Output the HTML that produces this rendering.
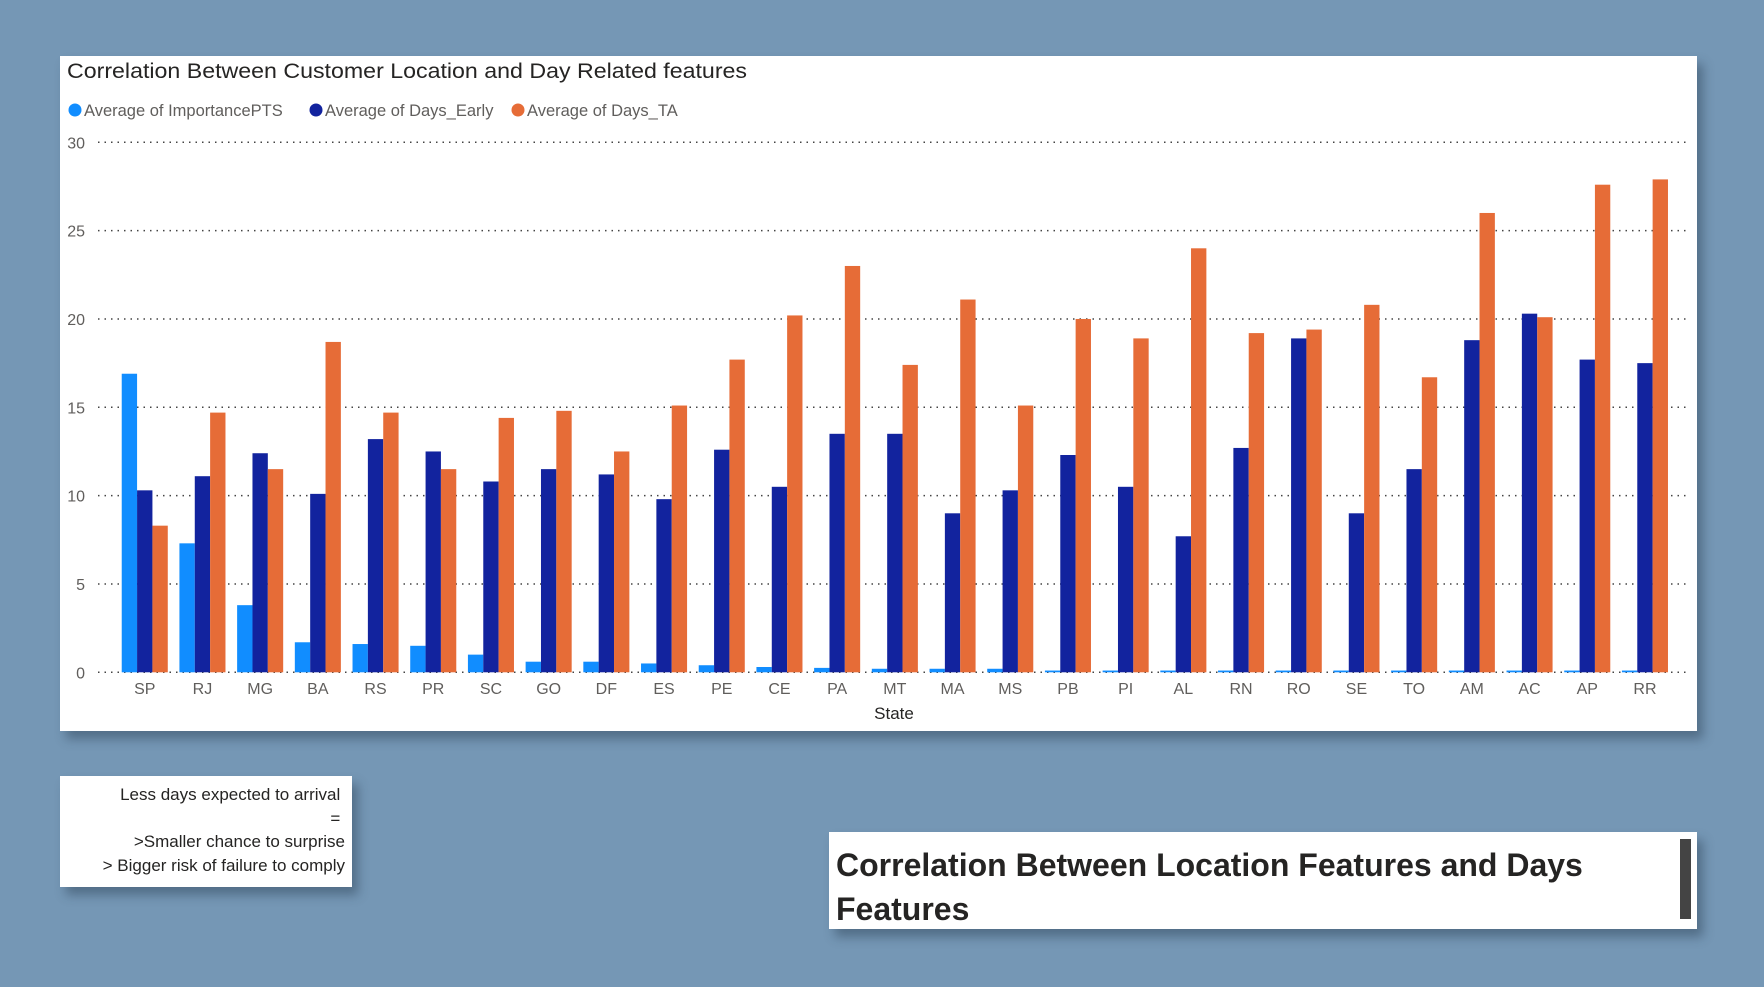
<!DOCTYPE html>
<html><head><meta charset="utf-8">
<style>
body{margin:0;width:1764px;height:987px;background:#7597b5;overflow:hidden;font-family:"Liberation Sans",sans-serif;position:relative}
.card{position:absolute;background:#fff;box-shadow:6px 8px 10px rgba(40,60,80,0.45)}
</style></head><body>
<div class="card" style="left:60px;top:56px;width:1637px;height:675px"></div>
<svg width="1764" height="987" style="position:absolute;left:0;top:0" id="chart">
<text x="67" y="78" font-size="21" textLength="680" lengthAdjust="spacingAndGlyphs" fill="#252423" font-family="Liberation Sans, sans-serif">Correlation Between Customer Location and Day Related features</text>
<g font-size="16.5" fill="#605e5c">
<circle cx="75" cy="110" r="6.5" fill="#118dff"/>
<text x="84" y="116">Average of ImportancePTS</text>
<circle cx="316" cy="110" r="6.5" fill="#12239e"/>
<text x="325" y="116">Average of Days_Early</text>
<circle cx="518" cy="110" r="6.5" fill="#e66c37"/>
<text x="527" y="116">Average of Days_TA</text>
</g>
<g id="grid"></g><g id="bars"></g><g id="xl"></g>
<text x="894" y="719" font-size="17" fill="#252423" text-anchor="middle">State</text>
</svg>
<div class="card" style="left:60px;top:776px;width:292px;height:111px;font-size:17px;color:#252423;text-align:right;line-height:23.5px;box-sizing:border-box;padding:7px 7px 0 0">
Less days expected to arrival&nbsp;<br>=&nbsp;<br>&gt;Smaller chance to surprise<br>&gt; Bigger risk of failure to comply</div>
<div class="card" style="left:829px;top:832px;width:868px;height:97px">
<div style="position:absolute;left:7px;top:11px;width:760px;font-size:32px;font-weight:bold;color:#252423;line-height:44px">Correlation Between Location Features and Days Features</div>
<div style="position:absolute;left:851px;top:7px;width:11px;height:80px;background:#444"></div>
</div>
<script>
const categories=["SP","RJ","MG","BA","RS","PR","SC","GO","DF","ES","PE","CE","PA","MT","MA","MS","PB","PI","AL","RN","RO","SE","TO","AM","AC","AP","RR"];
const importancePTS=[16.9,7.3,3.8,1.7,1.6,1.5,1.0,0.6,0.6,0.5,0.4,0.3,0.25,0.2,0.2,0.2,0.1,0.1,0.1,0.1,0.1,0.1,0.1,0.1,0.1,0.1,0.1];
const daysEarly=[10.3,11.1,12.4,10.1,13.2,12.5,10.8,11.5,11.2,9.8,12.6,10.5,13.5,13.5,9.0,10.3,12.3,10.5,7.7,12.7,18.9,9.0,11.5,18.8,20.3,17.7,17.5];
const daysTA=[8.3,14.7,11.5,18.7,14.7,11.5,14.4,14.8,12.5,15.1,17.7,20.2,23.0,17.4,21.1,15.1,20.0,18.9,24.0,19.2,19.4,20.8,16.7,26.0,20.1,27.6,27.9];
const yTicks=[0,5,10,15,20,25,30];
const NS="http://www.w3.org/2000/svg";
const y0=672.3,yTop=142.3,yMax=30;
function y(v){return y0-(v/yMax)*(y0-yTop);}
const bandStart=115.9,band=57.7;
function xc(i){return bandStart+band*(i+0.5);}
const grid=document.getElementById('grid'),bars=document.getElementById('bars'),xl=document.getElementById('xl');
yTicks.forEach(t=>{
  const l=document.createElementNS(NS,'line');
  
  
  l.setAttribute('x1',98);l.setAttribute('x2',1690);l.setAttribute('y1',y(t));l.setAttribute('y2',y(t));
  l.setAttribute('stroke','#444');l.setAttribute('stroke-width','1.5');l.setAttribute('stroke-dasharray','1.5 5');
  grid.appendChild(l);
  const tx=document.createElementNS(NS,'text');
  
  
  tx.setAttribute('x',85);tx.setAttribute('y',y(t)+6);tx.setAttribute('text-anchor','end');
  tx.setAttribute('font-size','16');tx.setAttribute('fill','#605e5c');tx.textContent=t;
  grid.appendChild(tx);
});
const series=[[importancePTS,'#118dff','importancepts'],[daysEarly,'#12239e','days-early'],[daysTA,'#e66c37','days-ta']];
const bw=15.35;
categories.forEach((c,i)=>{
  series.forEach((s,k)=>{
    const r=document.createElementNS(NS,'rect');
    
    
    const v=s[0][i];
    r.setAttribute('x',xc(i)-1.5*bw+k*bw);r.setAttribute('width',bw);
    r.setAttribute('y',y(v));r.setAttribute('height',y0-y(v));r.setAttribute('fill',s[1]);
    bars.appendChild(r);
  });
  const t=document.createElementNS(NS,'text');
  
  
  t.setAttribute('x',xc(i));t.setAttribute('y',694);t.setAttribute('text-anchor','middle');
  t.setAttribute('font-size','16');t.setAttribute('fill','#605e5c');t.textContent=c;
  xl.appendChild(t);
});
</script>
</body></html>
